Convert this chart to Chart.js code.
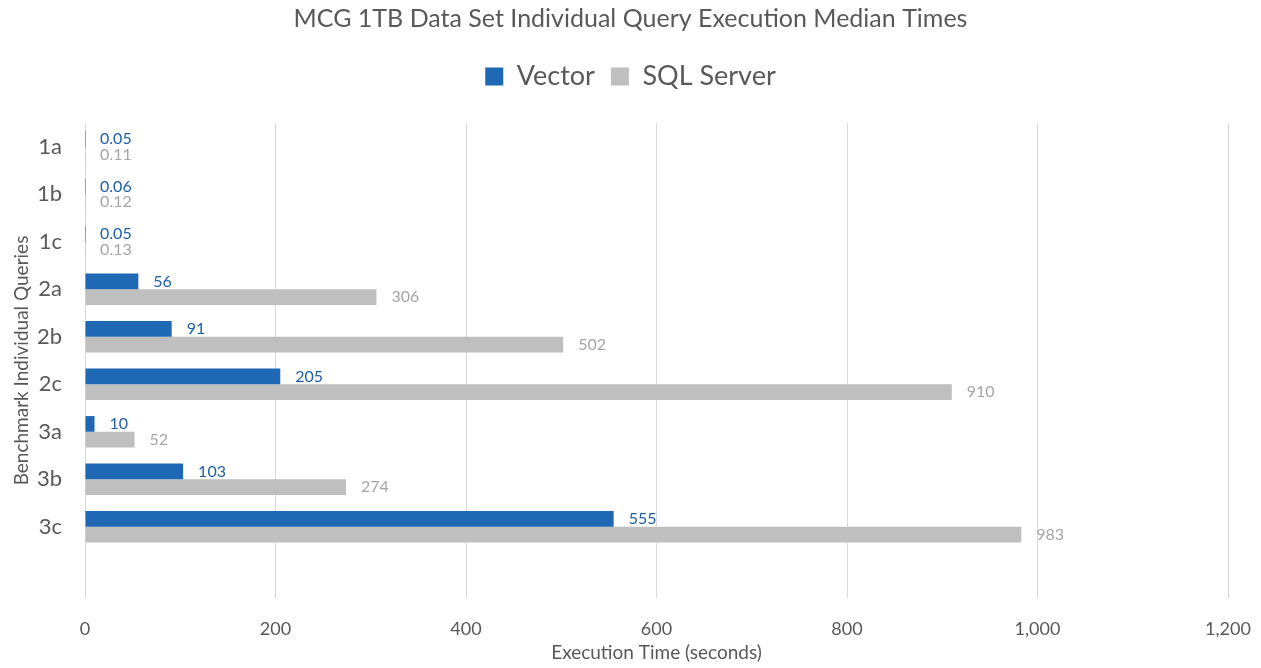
<!DOCTYPE html>
<html>
<head>
<meta charset="utf-8">
<script src="https://cdn.jsdelivr.net/npm/chart.js@4"></script>
<style>
  html, body { margin: 0; padding: 0; background: #fff; }
  #wrap { width: 1261px; height: 668px; }
</style>
</head>
<body>
<div id="wrap"><canvas id="queryChart" width="1261" height="668"></canvas></div>
<script>
// categories (last one is empty, like the spare row in the original sheet)
const queries = ['1a', '1b', '1c', '2a', '2b', '2c', '3a', '3b', '3c', ''];
const vectorTimes = [0.05, 0.06, 0.05, 56, 91, 205, 10, 103, 555, null];
const sqlServerTimes = [0.11, 0.12, 0.13, 306, 502, 910, 52, 274, 983, null];
const xTicks = [0, 200, 400, 600, 800, 1000, 1200];

const fontFamily = 'Lato, "Open Sans", sans-serif';
const textGrey = '#595959';

// value labels to the right of each bar
const barLabels = {
  id: 'barLabels',
  afterDatasetsDraw(chart) {
    const ctx = chart.ctx;
    ctx.save();
    ctx.font = '16px ' + fontFamily;
    ctx.textBaseline = 'middle';
    ctx.textAlign = 'left';
    chart.data.datasets.forEach((ds, i) => {
      const meta = chart.getDatasetMeta(i);
      ctx.fillStyle = ds.labelColor;
      meta.data.forEach((bar, j) => {
        const v = ds.data[j];
        if (v === null || v === undefined) return;
        ctx.fillText(String(v), bar.x + 15, bar.y);
      });
    });
    ctx.restore();
  }
};

// leave some room under the legend
const legendGap = {
  id: 'legendGap',
  beforeInit(chart) {
    const fit = chart.legend.fit;
    chart.legend.fit = function () {
      fit.call(this);
      this.height += 23;
    };
  }
};

const ctx = document.getElementById('queryChart').getContext('2d');

new Chart(ctx, {
  type: 'bar',
  data: {
    labels: queries,
    datasets: [{
      label: 'Vector',
      data: vectorTimes,
      backgroundColor: '#1f69b4',
      labelColor: '#1f5fa6',
      categoryPercentage: 0.66,
      barPercentage: 1.0
    }, {
      label: 'SQL Server',
      data: sqlServerTimes,
      backgroundColor: '#bfbfbf',
      labelColor: '#a6a6a6',
      categoryPercentage: 0.66,
      barPercentage: 1.0
    }]
  },
  options: {
    indexAxis: 'y',
    responsive: false,
    animation: false,
    layout: {
      padding: { left: 33, right: 33, top: 4, bottom: 4 }
    },
    plugins: {
      title: {
        display: true,
        text: 'MCG 1TB Data Set Individual Query Execution Median Times',
        color: textGrey,
        font: { family: fontFamily, size: 25, weight: 'normal' },
        padding: { top: 0, bottom: 13 }
      },
      legend: {
        display: true,
        position: 'top',
        labels: {
          color: textGrey,
          font: { family: fontFamily, size: 27 },
          boxWidth: 18,
          boxHeight: 18,
          padding: 16
        }
      },
      tooltip: { enabled: false }
    },
    scales: {
      x: {
        min: 0,
        max: 1200,
        afterBuildTicks: (scale) => {
          scale.ticks = xTicks.map(v => ({ value: v }));
        },
        afterFit: (scale) => {
          scale.height = 66;
          scale.paddingLeft = 0;
          scale.paddingRight = 0;
        },
        ticks: {
          color: textGrey,
          font: { family: fontFamily, size: 18 },
          padding: 20,
          callback: (val) => val.toLocaleString('en-US')
        },
        grid: { color: '#d9d9d9', drawTicks: false },
        border: { display: false },
        title: {
          display: true,
          text: 'Execution Time (seconds)',
          color: textGrey,
          font: { family: fontFamily, size: 19 },
          padding: { top: 0, bottom: 0 }
        }
      },
      y: {
        afterFit: (scale) => { scale.width = 52; },
        ticks: {
          color: textGrey,
          font: { family: fontFamily, size: 22 },
          padding: 15
        },
        grid: { display: false },
        border: { display: false },
        title: {
          display: true,
          text: 'Benchmark Individual Queries',
          color: textGrey,
          font: { family: fontFamily, size: 19 },
          padding: { top: -23, bottom: 0 }
        }
      }
    }
  },
  plugins: [barLabels, legendGap]
});
</script>
</body>
</html>
